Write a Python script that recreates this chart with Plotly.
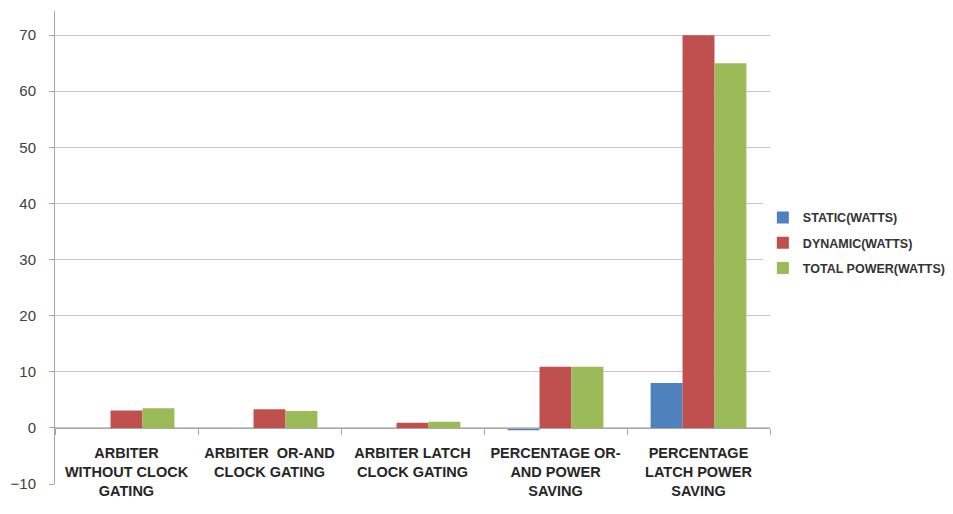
import plotly.graph_objects as go

categories = [
    "ARBITER<br>WITHOUT CLOCK<br>GATING",
    "ARBITER  OR-AND<br>CLOCK GATING",
    "ARBITER LATCH<br>CLOCK GATING",
    "PERCENTAGE OR-<br>AND POWER<br>SAVING",
    "PERCENTAGE<br>LATCH POWER<br>SAVING",
]
static_w = [0.0, 0.0, 0.0, -0.4, 8.0]
dynamic_w = [3.1, 3.3, 0.9, 10.9, 70.0]
total_w = [3.5, 3.0, 1.1, 10.9, 65.0]
series_names = ["STATIC(WATTS)", "DYNAMIC(WATTS)", "TOTAL POWER(WATTS)"]
colors = ["#4F81BD", "#C0504D", "#9BBB59"]

y_min, y_max = -10, 74.3

fig = go.Figure()
for name, vals, col in zip(series_names, [static_w, dynamic_w, total_w], colors):
    fig.add_trace(go.Bar(x=categories, y=vals, name=name, marker_color=col,
                         marker_line_width=0, legendgroup=name))

zero_pos = (0 - y_min) / (y_max - y_min)

fig.update_layout(
    width=953, height=514,
    margin=dict(l=55, r=183, t=11, b=30, autoexpand=False),
    paper_bgcolor="white", plot_bgcolor="white",
    barmode="group", bargap=0.33, bargroupgap=0,
    font=dict(family="Liberation Sans, Arial, sans-serif", color="#333333"),
    legend=dict(x=0.99, y=0.51, xanchor="left", yanchor="middle",
                font=dict(size=12.5, color="#333333", weight="bold"),
                traceorder="grouped", tracegroupgap=6, itemwidth=30),
    xaxis=dict(anchor="free", position=zero_pos, showline=True, linecolor="#a6a6a6",
               linewidth=1, ticks="outside", tickson="boundaries", ticklen=6,
               tickcolor="#a6a6a6", showgrid=False,
               tickfont=dict(size=14.5, color="#262626", weight="bold"),
               ticklabelstandoff=12),
    yaxis=dict(range=[y_min, y_max], dtick=10, tick0=0, showgrid=True,
               gridcolor="#c8c8c8", gridwidth=1, zeroline=False,
               showline=True, linecolor="#a6a6a6", ticks="outside", ticklen=5,
               tickcolor="#a6a6a6", tickfont=dict(size=15, color="#404040"),
               ticklabelstandoff=10),
)

fig.write_html("out.html")
